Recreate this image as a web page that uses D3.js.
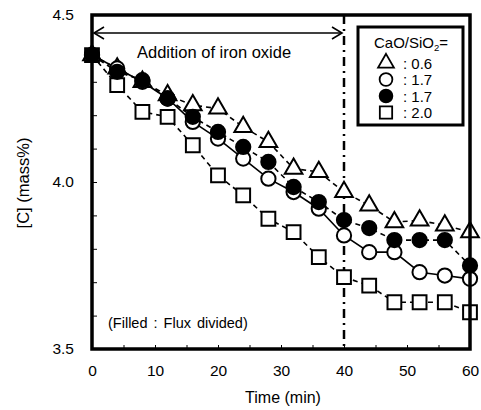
<!DOCTYPE html>
<html>
<head>
<meta charset="utf-8">
<script src="https://cdn.jsdelivr.net/npm/d3@7"></script>
<style>
  body { margin: 0; background: #fff; }
  text { font-family: "Liberation Sans", Arial, sans-serif; fill: #000; }
</style>
</head>
<body>
<div id="viz"></div>
<script>

// time in minutes, one sample every 4 min
var times = [0, 4, 8, 12, 16, 20, 24, 28, 32, 36, 40, 44, 48, 52, 56, 60];

// [C] mass% per run
var tri06    = [4.38, 4.34, 4.30, 4.26, 4.23, 4.22, 4.165, 4.12, 4.04, 4.03, 3.97, 3.93, 3.88, 3.885, 3.87, 3.85];
var open17   = [4.38, 4.34, 4.30, 4.25, 4.18, 4.13, 4.07, 4.01, 3.97, 3.92, 3.84, 3.79, 3.79, 3.73, 3.72, 3.71];
var filled17 = [4.38, 4.33, 4.305, 4.25, 4.195, 4.15, 4.105, 4.06, 3.985, 3.94, 3.886, 3.862, 3.826, 3.826, 3.826, 3.75];
var sq20     = [4.38, 4.29, 4.21, 4.195, 4.11, 4.02, 3.96, 3.89, 3.85, 3.775, 3.715, 3.69, 3.64, 3.64, 3.64, 3.61];

var xTicks = [0, 10, 20, 30, 40, 50, 60];
var yTicks = [3.5, 4.0, 4.5];
var legendLabels = ["0.6", "1.7", "1.7", "2.0"];

var viz = { width: 481, height: 410 };
var plot = { left: 92, right: 470, top: 15, bottom: 349 };

var svg = d3.select("#viz")
	.append("svg")
	.attr("width", viz.width)
	.attr("height", viz.height);

var x = d3.scaleLinear().domain([0, 60]).range([plot.left, plot.right]);
var y = d3.scaleLinear().domain([3.5, 4.5]).range([plot.bottom, plot.top]);

// minor ticks, inside the frame
svg.append("g")
	.attr("transform", "translate(0," + plot.bottom + ")")
	.call(d3.axisTop(x).tickValues(d3.range(0, 61, 5)).tickSize(4).tickFormat(""))
	.call(function(g) { g.select(".domain").remove(); });

svg.append("g")
	.attr("transform", "translate(" + plot.left + ",0)")
	.call(d3.axisRight(y).tickValues(d3.range(35, 46).map(function(d) { return d / 10; })).tickSize(5).tickFormat(""))
	.call(function(g) { g.select(".domain").remove(); });

// tick labels
svg.append("g")
	.attr("transform", "translate(0," + plot.bottom + ")")
	.call(d3.axisBottom(x).tickValues(xTicks).tickSize(0).tickPadding(16))
	.call(function(g) {
		g.select(".domain").remove();
		g.selectAll("text").attr("font-size", 15.5).attr("font-family", "Liberation Sans, Arial, sans-serif");
	});

svg.append("g")
	.attr("transform", "translate(" + plot.left + ",0)")
	.call(d3.axisLeft(y).tickValues(yTicks).tickSize(0).tickPadding(18).tickFormat(d3.format(".1f")))
	.call(function(g) {
		g.select(".domain").remove();
		g.selectAll("text").attr("font-size", 15.5).attr("font-family", "Liberation Sans, Arial, sans-serif");
	});

// axis titles
svg.append("text")
	.attr("x", 283).attr("y", 403)
	.attr("text-anchor", "middle")
	.attr("font-size", 16)
	.text("Time (min)");

svg.append("text")
	.attr("transform", "translate(29,183) rotate(-90)")
	.attr("text-anchor", "middle")
	.attr("font-size", 16.5)
	.text("[C] (mass%)");

// end of iron oxide addition
svg.append("line")
	.attr("x1", x(40)).attr("x2", x(40))
	.attr("y1", plot.top).attr("y2", plot.bottom)
	.attr("stroke", "#000")
	.attr("stroke-width", 2.5)
	.attr("stroke-dasharray", "9,5,2,5");

// double arrow
var ay = y(4.446);
svg.append("line")
	.attr("x1", x(0) + 2).attr("x2", x(40) - 2)
	.attr("y1", ay).attr("y2", ay)
	.attr("stroke", "#000").attr("stroke-width", 1.6);
svg.append("path")
	.attr("d", "M" + (x(0) + 12) + "," + (ay - 6) + "L" + (x(0) + 2) + "," + ay + "L" + (x(0) + 12) + "," + (ay + 6) +
		"M" + (x(40) - 12) + "," + (ay - 6) + "L" + (x(40) - 2) + "," + ay + "L" + (x(40) - 12) + "," + (ay + 6))
	.attr("fill", "none").attr("stroke", "#000").attr("stroke-width", 1.6);

svg.append("text")
	.attr("x", 137).attr("y", 58)
	.attr("font-size", 16.5)
	.text("Addition of iron oxide");

svg.append("text")
	.attr("x", 108).attr("y", 328)
	.attr("font-size", 14.5)
	.attr("word-spacing", 2)
	.text("(Filled : Flux divided)");

// series lines
var line = d3.line()
	.x(function(d, i) { return x(times[i]); })
	.y(function(d) { return y(d); });

var series = [
	{ vals: sq20, shape: d3.symbolSquare, size: 190, fill: "#fff", dash: "5,4" },
	{ vals: tri06, shape: d3.symbolTriangle, size: 135, fill: "#fff", dash: "5,4" },
	{ vals: open17, shape: d3.symbolCircle, size: 160, fill: "#fff", dash: null },
	{ vals: filled17, shape: d3.symbolCircle, size: 160, fill: "#000", dash: "5,4" }
];

series.forEach(function(s) {
	svg.append("path")
		.datum(s.vals)
		.attr("d", line)
		.attr("fill", "none")
		.attr("stroke", "#000")
		.attr("stroke-width", 1.6)
		.attr("stroke-dasharray", s.dash);
});

series.forEach(function(s) {
	svg.selectAll(null)
		.data(s.vals).enter()
		.append("path")
		.attr("transform", function(d, i) { return "translate(" + x(times[i]) + "," + y(d) + ")"; })
		.attr("d", d3.symbol().type(s.shape).size(s.size))
		.attr("fill", s.fill)
		.attr("stroke", "#000")
		.attr("stroke-width", 2);
});

// frame
svg.append("rect")
	.attr("x", plot.left).attr("y", plot.top)
	.attr("width", plot.right - plot.left).attr("height", plot.bottom - plot.top)
	.attr("fill", "none").attr("stroke", "#000").attr("stroke-width", 3.5);

// legend
var lg = svg.append("g");
lg.append("rect")
	.attr("x", 358).attr("y", 27).attr("width", 105).attr("height", 98)
	.attr("fill", "#fff").attr("stroke", "#000").attr("stroke-width", 3);

var ttl = lg.append("text")
	.attr("x", 411).attr("y", 48)
	.attr("text-anchor", "middle")
	.attr("font-size", 15);
ttl.append("tspan").text("CaO/SiO");
ttl.append("tspan").attr("font-size", 9.5).attr("dy", 3).text("2");
ttl.append("tspan").attr("dy", -3).text("=");

var legendOrder = [series[1], series[2], series[3], series[0]];
legendOrder.forEach(function(s, i) {
	var ry = 63 + i * 16.5;
	lg.append("path")
		.attr("transform", "translate(386," + ry + ")")
		.attr("d", d3.symbol().type(s.shape).size(s.size * 0.8))
		.attr("fill", s.fill)
		.attr("stroke", "#000")
		.attr("stroke-width", 1.8);
	lg.append("text")
		.attr("x", 403).attr("y", ry + 5.5)
		.attr("font-size", 15)
		.text(":  " + legendLabels[i]);
});

</script>
</body>
</html>
